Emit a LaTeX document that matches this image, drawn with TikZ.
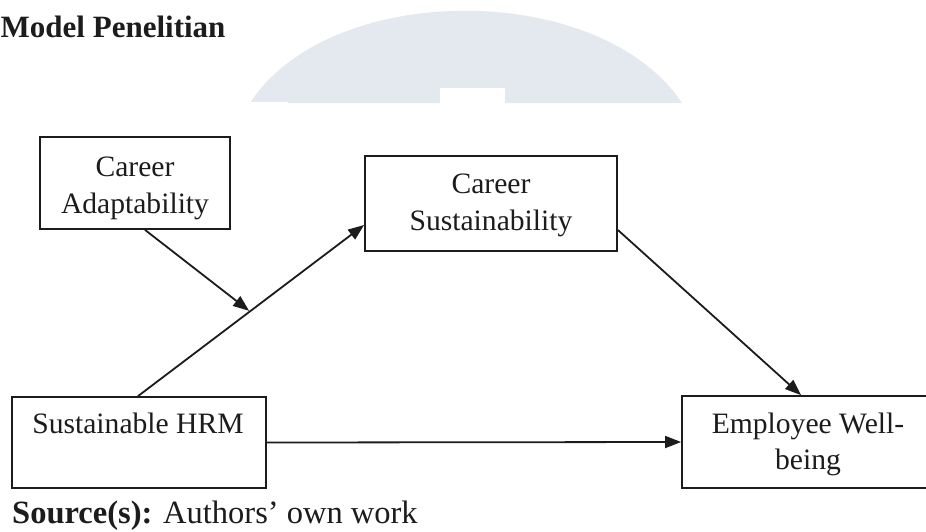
\documentclass[tikz,border=0pt]{standalone}
\usepackage{fontspec}
\setmainfont{Liberation Serif}
\usetikzlibrary{arrows.meta,calc}
\definecolor{wmgray}{HTML}{E4E8EF}
\definecolor{ink}{HTML}{1C1C1C}
\begin{document}
\begin{tikzpicture}[x=1pt,y=-1pt,
  box/.style={draw=ink, line width=1.8pt, rectangle, inner sep=0pt},
  lbl/.style={font=\fontsize{29.6}{36}\selectfont, text=ink, anchor=base, inner sep=0pt},
  link/.style={draw=ink, line width=1.8pt, -{Triangle[length=16pt,width=12pt]}}]
\useasboundingbox (0,0) rectangle (926,531);
\clip (0,0) rectangle (926,531);
\fill[white] (0,0) rectangle (926,531);

% faint dome in the background
\fill[wmgray] (250,103) .. controls (330,-20) and (600,-20) .. (682,103) -- cycle;
\fill[white] (440,88) rectangle (505,104);
\fill[white] (248,101.5) rectangle (288,104);

% heading
\node[font=\bfseries\fontsize{31}{36}\selectfont, text=ink, anchor=base west, inner sep=0pt]
  (title) at (0.5,37) {Model Penelitian};

% boxes
\node[box, minimum width=190pt, minimum height=92pt] (ca)  at (135,183)   {};
\node[box, minimum width=252pt, minimum height=95pt] (cs)  at (491,203.5) {};
\node[box, minimum width=254pt, minimum height=91pt] (hrm) at (139,442.5) {};
\node[box, minimum width=252pt, minimum height=92pt] (emp) at (808,442)   {};

% box texts
\node[lbl] (ca1)  at (135,176) {Career};
\node[lbl] (ca2)  at (135,213) {Adaptability};
\node[lbl] (cs1)  at (491,193) {Career};
\node[lbl] (cs2)  at (491,230) {Sustainability};
\node[lbl] (hrm1) at (138,433) {Sustainable HRM};
\node[lbl] (emp1) at (808,433) {Employee Well-};
\node[lbl] (emp2) at (808,469) {being};

% connectors
\coordinate (hrmtop) at ($(hrm.north)+(-1,0)$);
\coordinate (csin)   at ($(cs.west)+(0,21.5)$);
\draw[link] (hrmtop) -- (csin);
\coordinate (mid) at ($(hrmtop)!0.495!(csin)$);
\draw[link, shorten >=1pt] ($(ca.south)+(10,0)$) -- (mid);
\draw[link] ($(cs.east)+(0,26.5)$) -- ($(emp.north)+(-7,0)$);
\draw[link] (hrm.east) -- (emp.west);

% source line
\node[font=\fontsize{32.5}{38}\selectfont, text=ink, anchor=base west, inner sep=0pt]
  (src) at (12,523) {\textbf{Source(s):} Authors’ own work};
\end{tikzpicture}
\end{document}
